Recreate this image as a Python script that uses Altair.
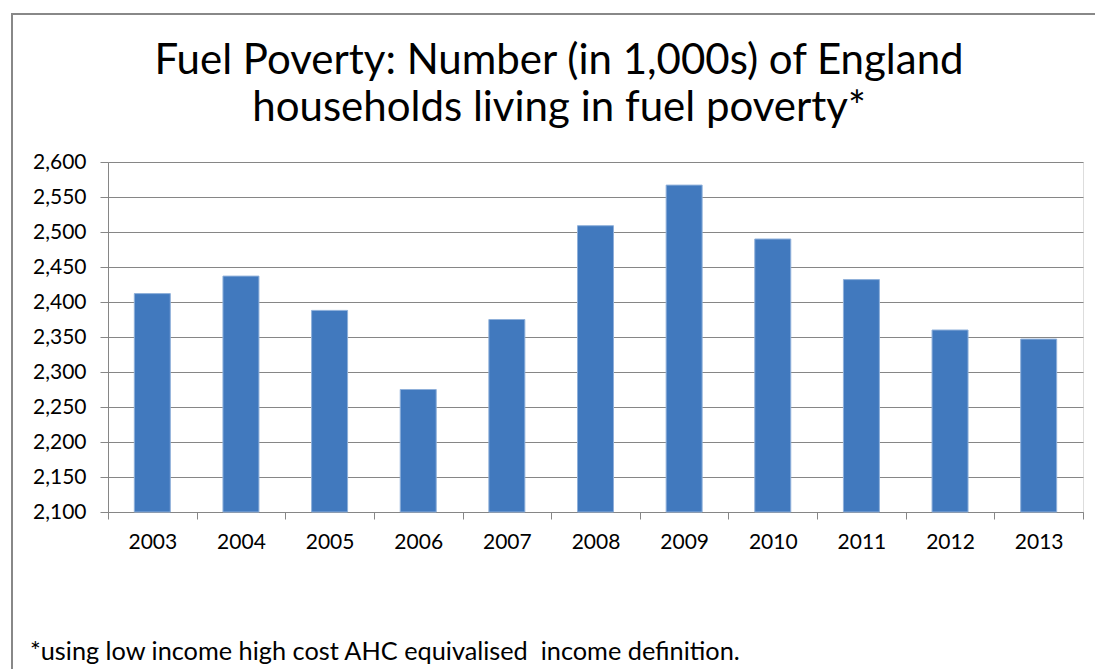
import altair as alt
import pandas as pd

years = ["2003", "2004", "2005", "2006", "2007", "2008", "2009", "2010", "2011", "2012", "2013"]
households = [2412, 2437, 2388, 2275, 2375, 2509, 2567, 2490, 2432, 2360, 2347]
y_ticks = [2100, 2150, 2200, 2250, 2300, 2350, 2400, 2450, 2500, 2550, 2600]
title_lines = ["Fuel Poverty: Number (in 1,000s) of England", "households living in fuel poverty*"]
footnote = "*using low income high cost AHC equivalised\u00a0 income definition."

df = pd.DataFrame({"year": years, "value": households})
FONT = "Lato"
GRAY = "#868686"

bars = alt.Chart(df).mark_bar(
    width=alt.RelativeBandSize(0.406), color="#4179BE", stroke="#8fb0da", strokeWidth=1
).encode(
    x=alt.X("year:N", sort=years, title=None,
            scale=alt.Scale(paddingInner=0, paddingOuter=0),
            axis=alt.Axis(tickBand="extent", labelAngle=0, labelFont=FONT, labelFontSize=21,
                          labelColor="#000000", labelPadding=12, tickSize=7, tickColor=GRAY,
                          domainColor=GRAY, domainWidth=1, grid=False)),
    y=alt.Y("value:Q", title=None,
            scale=alt.Scale(domain=[2100, 2600], nice=False, zero=False),
            axis=alt.Axis(values=y_ticks, format=",.0f", labelFont=FONT, labelFontSize=21,
                          labelColor="#000000", labelPadding=14, tickSize=8, tickColor=GRAY,
                          domainColor=GRAY, gridColor=GRAY, gridWidth=1, gridOpacity=1)),
    y2=alt.datum(2100),
)

border = alt.Chart(pd.DataFrame({"k": [0]})).mark_rect(
    fill=None, stroke="#888888", strokeWidth=2
).encode(x=alt.value(-96), y=alt.value(-148), x2=alt.value(1020), y2=alt.value(560))

title = alt.Chart(pd.DataFrame({"t": ["\n".join(title_lines)]})).mark_text(
    align="center", baseline="alphabetic", font=FONT, fontSize=42, color="#000000",
    lineBreak="\n", lineHeight=47
).encode(text="t:N", x=alt.value(451), y=alt.value(-88))

note = alt.Chart(pd.DataFrame({"t": [footnote]})).mark_text(
    align="left", baseline="alphabetic", font=FONT, fontSize=25.3, color="#000000"
).encode(text="t:N", x=alt.value(-78), y=alt.value(498))

chart = alt.layer(border, bars, title, note).properties(
    width=975, height=350,
    autosize=alt.AutoSizeParams(type="none"),
    padding={"left": 108, "top": 162, "right": 12, "bottom": 157},
).configure_view(stroke=None).configure(background="white")

chart.save("out.html", embed_options={"renderer": "svg", "actions": False})
